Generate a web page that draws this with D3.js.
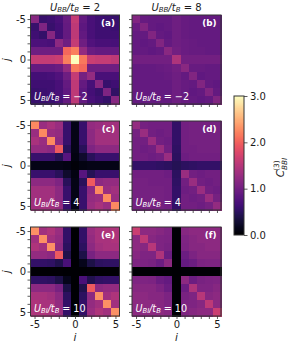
<!DOCTYPE html>
<html><head><meta charset="utf-8">
<script src="https://cdn.jsdelivr.net/npm/d3@7"></script>
<style>html,body{margin:0;padding:0;background:#fff}svg{display:block}text{font-family:"DejaVu Sans";fill:#1a1a1a}</style>
</head><body><div id="c"></div>
<script>
const sites=[-5,-4,-3,-2,-1,0,1,2,3,4,5];
const axisTicks=[-5,0,5];
const vmax=3;
const cbarTicks=[0,1,2,3];
const titles=["2","8"];
const panelLabels=["(a)","(b)","(c)","(d)","(e)","(f)"];
const panelUBI=["−2","−2","4","4","10","10"];
const matA=[
[1.15,.58,.62,.70,.92,1.6,.88,.70,.63,.60,.58],
[.58,1.10,.58,.66,.90,1.55,.85,.70,.63,.63,.60],
[.63,.56,1.15,.66,.90,1.55,.88,.70,.63,.63,.63],
[.72,.72,.70,1.2,.98,1.6,.98,.75,.70,.70,.68],
[.98,.98,.98,.98,2.05,2.2,1.25,.94,.90,.90,.90],
[1.6,1.6,1.6,1.65,2.2,3.0,2.15,1.65,1.6,1.6,1.55],
[.90,.90,.90,.94,1.25,2.15,2.05,.98,.98,.98,.98],
[.66,.66,.68,.75,.98,1.6,1.02,1.25,.70,.70,.70],
[.63,.63,.63,.70,.90,1.55,.90,.68,1.15,.58,.63],
[.58,.60,.63,.70,.87,1.55,.85,.66,.58,1.1,.53],
[.58,.58,.60,.68,.90,1.55,.90,.70,.63,.56,1.15]];
const matB=[
[1.12,.92,.9,.9,.9,.98,.92,.9,.9,.9,.9],
[.94,1.12,.9,.87,.9,.98,.92,.9,.9,.9,.9],
[.9,.9,1.12,.9,.87,.98,.92,.9,.9,.9,.9],
[.9,.87,.9,1.12,.9,.98,.94,.92,.9,.9,.9],
[.9,.9,.87,.9,1.18,1.0,.94,.92,.92,.9,.9],
[1.0,1.0,1.0,1.0,1.0,1.45,1.0,1.0,1.0,1.0,1.0],
[.9,.9,.9,.92,.94,1.0,1.18,.92,.92,.9,.9],
[.9,.9,.9,.9,.92,.98,.9,1.12,.87,.9,.9],
[.9,.9,.9,.9,.9,.98,.92,.9,1.12,.9,.87],
[.9,.9,.9,.9,.9,.98,.92,.87,.9,1.12,.9],
[.9,.9,.9,.9,.9,.98,.92,.9,.87,.9,1.12]];
const matC=[
[2.25,1.3,1.4,1.3,.58,.12,.58,1.25,1.3,1.35,1.35],
[1.3,2.25,1.3,1.25,.58,.12,.58,1.2,1.35,1.35,1.35],
[1.4,1.3,2.25,1.2,.58,.12,.58,1.2,1.35,1.35,1.35],
[1.25,1.25,1.2,1.95,.48,.12,.48,1.1,1.2,1.2,1.2],
[.58,.58,.58,.45,.8,.1,.25,.48,.58,.58,.58],
[.12,.12,.12,.12,.1,.05,.1,.12,.12,.12,.12],
[.58,.58,.58,.48,.25,.1,.8,.45,.58,.58,.58],
[1.2,1.2,1.2,1.1,.48,.12,.48,1.95,1.2,1.25,1.25],
[1.35,1.35,1.35,1.2,.58,.12,.58,1.2,2.25,1.3,1.35],
[1.35,1.35,1.35,1.2,.58,.12,.58,1.25,1.3,2.25,1.3],
[1.35,1.35,1.35,1.25,.58,.12,.58,1.3,1.4,1.3,2.25]];
const matD=[
[1.25,1.03,1.0,1.0,1.0,.55,1.0,1.03,1.03,1.03,1.03],
[1.03,1.3,1.0,.97,1.0,.55,1.0,1.03,1.03,1.03,1.03],
[1.0,1.0,1.3,1.0,.97,.55,1.0,1.03,1.03,1.03,1.03],
[1.0,.97,1.0,1.3,1.0,.52,1.0,1.0,1.03,1.03,1.03],
[1.0,1.0,.97,1.0,1.3,.5,.97,1.0,1.0,1.0,1.0],
[.55,.55,.55,.52,.5,.45,.5,.52,.55,.55,.55],
[1.0,1.0,1.0,1.0,.97,.5,1.3,1.0,.97,1.0,1.0],
[1.03,1.03,1.0,1.0,1.0,.52,1.0,1.3,1.0,.97,1.0],
[1.03,1.03,1.03,1.03,1.0,.55,.97,1.0,1.3,1.0,.97],
[1.03,1.03,1.03,1.03,1.0,.55,1.0,.97,1.0,1.3,1.03],
[1.03,1.03,1.03,1.03,1.0,.55,1.0,1.0,.97,1.03,1.25]];
const matE=[
[2.3,1.35,1.45,1.3,.55,.01,.55,1.3,1.4,1.45,1.45],
[1.35,2.3,1.35,1.25,.55,.01,.55,1.25,1.4,1.4,1.45],
[1.45,1.35,2.3,1.2,.5,.01,.5,1.2,1.35,1.4,1.4],
[1.25,1.25,1.2,1.95,.4,.01,.38,1.05,1.2,1.2,1.2],
[.55,.55,.52,.42,.7,.01,.15,.38,.5,.52,.52],
[.02,.02,.02,.02,.01,.01,.01,.02,.02,.02,.02],
[.52,.52,.5,.38,.15,.01,.7,.42,.52,.55,.55],
[1.2,1.2,1.2,1.05,.38,.01,.4,1.95,1.2,1.25,1.25],
[1.4,1.4,1.35,1.2,.5,.01,.5,1.2,2.3,1.35,1.45],
[1.45,1.4,1.4,1.25,.55,.01,.55,1.25,1.35,2.3,1.35],
[1.45,1.45,1.4,1.3,.55,.01,.55,1.3,1.45,1.35,2.3]];
const matF=[
[1.65,1.2,1.2,1.15,1.1,.02,1.15,1.2,1.2,1.2,1.2],
[1.2,1.55,1.15,1.1,1.08,.02,1.1,1.15,1.2,1.2,1.2],
[1.2,1.15,1.5,1.1,1.05,.02,1.08,1.15,1.15,1.2,1.2],
[1.15,1.1,1.1,1.45,.95,.02,.95,1.08,1.15,1.15,1.15],
[1.1,1.08,1.05,.95,1.2,.02,.9,.95,1.08,1.1,1.1],
[.02,.02,.02,.02,.02,.01,.02,.02,.02,.02,.02],
[1.1,1.1,1.08,.95,.9,.02,1.2,.95,1.05,1.08,1.1],
[1.15,1.15,1.15,1.08,.95,.02,.95,1.45,1.1,1.1,1.15],
[1.2,1.2,1.15,1.15,1.08,.02,1.05,1.1,1.5,1.15,1.2],
[1.2,1.2,1.2,1.15,1.1,.02,1.08,1.1,1.15,1.55,1.2],
[1.2,1.2,1.2,1.2,1.15,.02,1.1,1.15,1.2,1.2,1.65]];
const mats=[matA,matB,matC,matD,matE,matF];

const W=293,H=344,frame="#333";
const svg=d3.select("#c").append("svg").attr("width",W).attr("height",H);
const color=d3.scaleSequential(d3.interpolateMagma).domain([0,vmax]);
const colX=[30.5,132],rowY=[15,121,227],size=89;
const band=d3.scaleBand().domain(sites).range([0,size]);
const pos=d3.scaleLinear().domain([-5.5,5.5]).range([0,size]);

function ub(sel,x,y,sub,val,fs,anchor,fill){
  const t=sel.append("text").attr("x",x).attr("y",y).attr("font-size",fs).attr("text-anchor",anchor).style("fill",fill);
  t.append("tspan").attr("font-style","italic").text("U");
  t.append("tspan").attr("font-style","italic").attr("font-size",fs*.7).attr("dy",fs*.15).text(sub);
  t.append("tspan").attr("font-style","italic").attr("dy",-fs*.15).text("/t");
  t.append("tspan").attr("font-style","italic").attr("font-size",fs*.7).attr("dy",fs*.15).text("B");
  t.append("tspan").attr("dy",-fs*.15).style("white-space","pre").text(" = "+val);
  return t;
}
mats.forEach((m,k)=>{
  const c=k%2,r=Math.floor(k/2);
  const g=svg.append("g").attr("transform",`translate(${colX[c]},${rowY[r]})`);
  g.selectAll("g.row").data(m).join("g").attr("class","row")
   .attr("transform",(d,j)=>`translate(0,${band(sites[j])})`)
   .selectAll("rect").data(d=>d).join("rect")
   .attr("shape-rendering","crispEdges")
   .attr("x",(d,i)=>band(sites[i])).attr("width",band.bandwidth()+.6).attr("height",band.bandwidth()+.6)
   .attr("fill",d=>color(d));
  g.append("rect").attr("width",size).attr("height",size).attr("fill","none").attr("stroke",frame).attr("stroke-width",1);
  const xa=d3.axisBottom(pos).tickValues(sites).tickSize(3).tickFormat(d=>r==2&&axisTicks.includes(d)?(d<0?"-"+(-d):d):"");
  const ga=g.append("g").attr("transform",`translate(0,${size})`).call(xa);
  const ya=d3.axisLeft(pos).tickValues(sites).tickSize(3).tickFormat(d=>c==0&&axisTicks.includes(d)?(d<0?"-"+(-d):d):"");
  const gy=g.append("g").call(ya);
  [ga,gy].forEach(s=>{s.select(".domain").remove();s.selectAll("line").attr("stroke",frame).attr("stroke-width",.8);
    s.selectAll("text").attr("font-size",10).attr("font-family","DejaVu Sans").style("fill","#1a1a1a");});
  ga.selectAll("text").attr("dy","0.71em").attr("y",4.5);
  gy.selectAll("text").attr("x",-4.5);
  g.append("text").attr("x",size-4.5).attr("y",11).attr("text-anchor","end").attr("font-size",8.8).attr("font-weight","bold").style("fill","#fff").text(panelLabels[k]);
  ub(g,3.5,size-4.5,"BI",panelUBI[k],9.6,"start","#fff");
  if(c==0){
    g.append("text").attr("transform",`translate(-21,${size/2}) rotate(-90)`).attr("text-anchor","middle").attr("font-size",10).attr("font-style","italic").style("fill","#1a1a1a").text("j");
  }
  if(r==2){
    g.append("text").attr("x",size/2).attr("y",size+25).attr("text-anchor","middle").attr("font-size",10.5).attr("font-style","italic").style("fill","#1a1a1a").text("i");
  }
  if(r==0){
    ub(g,size/2,-4.5,"BB",titles[c],10,"middle","#1a1a1a");
  }
});
// colour bar
const cbX=234,cbW=10,cbY=96,cbH=139;
const cy=d3.scaleLinear().domain([0,vmax]).range([cbY+cbH,cbY]);
const cb=svg.append("g");
d3.range(0,cbH).forEach(p=>{
  cb.append("rect").attr("x",cbX).attr("y",cbY+p).attr("width",cbW).attr("height",1.3).attr("shape-rendering","crispEdges").attr("fill",color(cy.invert(cbY+p+.5)));
});
cb.append("rect").attr("x",cbX).attr("y",cbY).attr("width",cbW).attr("height",cbH).attr("fill","none").attr("stroke",frame).attr("stroke-width",1);
const ca=svg.append("g").attr("transform",`translate(${cbX+cbW},0)`).call(d3.axisRight(cy).tickValues(cbarTicks).tickSize(3.5).tickFormat(d3.format(".1f")));
ca.select(".domain").remove();
ca.selectAll("line").attr("stroke",frame).attr("stroke-width",.8);
ca.selectAll("text").attr("font-size",10).attr("font-family","DejaVu Sans").attr("x",6).style("fill","#1a1a1a");
const lab=svg.append("text").attr("transform",`translate(284,${cbY+cbH/2+2}) rotate(-90)`).attr("text-anchor","middle").attr("font-size",10.5).style("fill","#1a1a1a");
lab.append("tspan").attr("font-style","italic").text("C");
lab.append("tspan").attr("font-size",7.3).attr("font-style","italic").attr("dy",2.5).text("BBI");
lab.append("tspan").attr("font-size",7.3).attr("dy",-7.5).attr("dx",-13).text("(3)");
</script></body></html>
